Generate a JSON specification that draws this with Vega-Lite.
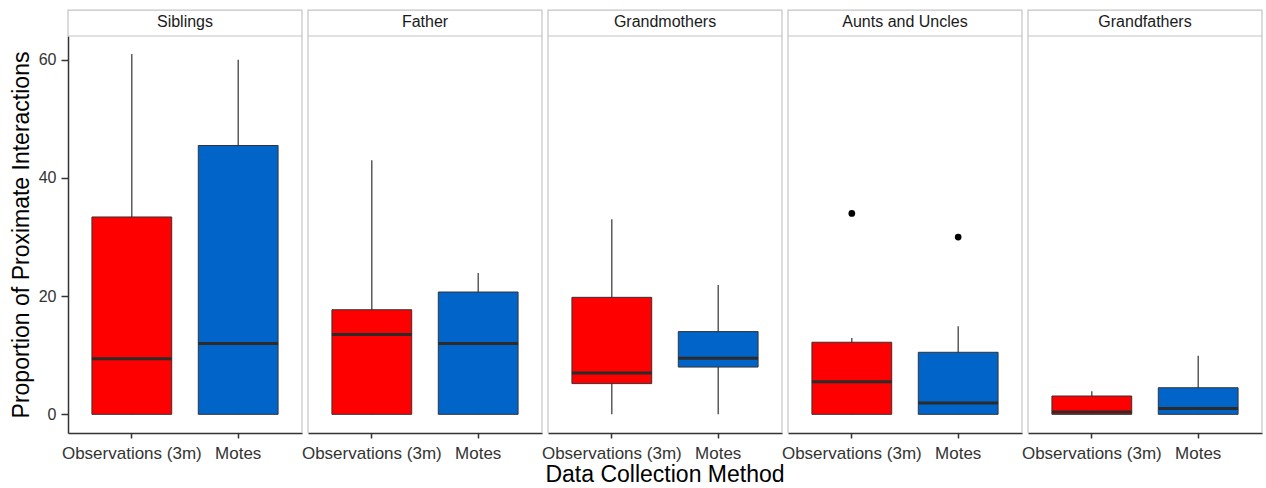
{
  "$schema": "https://vega.github.io/schema/vega-lite/v6.json",
  "padding": {"left": 10, "top": 9, "right": 3, "bottom": 1},
  "background": "white",
  "config": {
    "font": "Liberation Sans",
    "view": {"stroke": null}
  },
  "data": {
    "values": [
      {"relation": "Siblings", "method": "Observations (3m)", "lower": 0, "q1": 0, "median": 9.4, "q3": 33.4, "upper": 61.0, "outlier": null},
      {"relation": "Siblings", "method": "Motes", "lower": 0, "q1": 0, "median": 12.0, "q3": 45.5, "upper": 60.0, "outlier": null},
      {"relation": "Father", "method": "Observations (3m)", "lower": 0, "q1": 0, "median": 13.5, "q3": 17.7, "upper": 43.0, "outlier": null},
      {"relation": "Father", "method": "Motes", "lower": 0, "q1": 0, "median": 12.0, "q3": 20.7, "upper": 23.9, "outlier": null},
      {"relation": "Grandmothers", "method": "Observations (3m)", "lower": 0, "q1": 5.2, "median": 7.0, "q3": 19.8, "upper": 33.0, "outlier": null},
      {"relation": "Grandmothers", "method": "Motes", "lower": 0, "q1": 8.0, "median": 9.5, "q3": 14.0, "upper": 21.9, "outlier": null},
      {"relation": "Aunts and Uncles", "method": "Observations (3m)", "lower": 0, "q1": 0, "median": 5.5, "q3": 12.2, "upper": 12.9, "outlier": 34.0},
      {"relation": "Aunts and Uncles", "method": "Motes", "lower": 0, "q1": 0, "median": 1.9, "q3": 10.5, "upper": 14.9, "outlier": 30.0},
      {"relation": "Grandfathers", "method": "Observations (3m)", "lower": 0, "q1": 0, "median": 0.4, "q3": 3.1, "upper": 3.9, "outlier": null},
      {"relation": "Grandfathers", "method": "Motes", "lower": 0, "q1": 0, "median": 1.0, "q3": 4.5, "upper": 9.9, "outlier": null}
    ]
  },
  "facet": {
    "column": {
      "field": "relation",
      "type": "nominal",
      "sort": ["Siblings", "Father", "Grandmothers", "Aunts and Uncles", "Grandfathers"],
      "title": "Data Collection Method",
      "header": {
        "labelOrient": "top",
        "titleOrient": "bottom",
        "labelFontSize": 16,
        "labelColor": "#1a1a1a",
        "labelPadding": 6,
        "titleFontSize": 23,
        "titleFontWeight": "normal",
        "titleColor": "#000000",
        "titlePadding": -7
      }
    }
  },
  "spacing": 6,
  "bounds": "flush",
  "spec": {
    "width": 234,
    "height": 397,
    "encoding": {
      "x": {
        "field": "method",
        "type": "nominal",
        "sort": ["Observations (3m)", "Motes"],
        "scale": {"type": "band", "paddingInner": 0.25, "paddingOuter": 0.225},
        "axis": {
          "title": null,
          "labelAngle": 0,
          "labelFontSize": 17,
          "labelColor": "#333333",
          "labelPadding": 7,
          "tickSize": 5,
          "tickColor": "#333333",
          "tickWidth": 1.5,
          "domainColor": "#333333",
          "domainWidth": 1.5
        }
      },
      "y": {
        "type": "quantitative",
        "scale": {"domain": [-3.16, 64.03], "nice": false, "zero": false},
        "axis": {
          "title": "Proportion of Proximate Interactions",
          "values": [0, 20, 40, 60],
          "grid": false,
          "titleFontSize": 23,
          "titleFontWeight": "normal",
          "titleColor": "#000000",
          "titlePadding": 5,
          "labelFontSize": 16,
          "labelColor": "#333333",
          "labelPadding": 5,
          "tickSize": 7,
          "tickColor": "#333333",
          "tickWidth": 1.5,
          "domainColor": "#333333",
          "domainWidth": 1.5
        }
      }
    },
    "layer": [
      {
        "transform": [{"filter": "datum.method === 'Motes'"}],
        "mark": {"type": "rect", "fill": "white", "fillOpacity": 0, "stroke": "#c4c4c4", "strokeWidth": 1.2},
        "encoding": {
          "x": {"datum": "Observations (3m)", "bandPosition": -0.3},
          "x2": {"datum": "Motes", "bandPosition": 1.3},
          "y": {"datum": 64.03},
          "y2": {"datum": 68.42}
        }
      },
      {
        "transform": [{"filter": "datum.method === 'Motes'"}],
        "mark": {"type": "rule", "color": "#c4c4c4", "strokeWidth": 1.2},
        "encoding": {
          "x": {"datum": "Motes", "bandPosition": 1.3},
          "y": {"datum": -3.16},
          "y2": {"datum": 64.03}
        }
      },
      {
        "transform": [{"filter": "datum.method === 'Motes' && datum.relation !== 'Siblings'"}],
        "mark": {"type": "rule", "color": "#c4c4c4", "strokeWidth": 1.2},
        "encoding": {
          "x": {"datum": "Observations (3m)", "bandPosition": -0.3},
          "y": {"datum": -3.16},
          "y2": {"datum": 64.03}
        }
      },
      {
        "mark": {"type": "rule", "color": "#333333", "strokeWidth": 1.2},
        "encoding": {
          "y": {"field": "lower"},
          "y2": {"field": "upper"}
        }
      },
      {
        "mark": {"type": "bar", "stroke": "#333333", "strokeWidth": 1},
        "encoding": {
          "y": {"field": "q1"},
          "y2": {"field": "q3"},
          "color": {
            "field": "method",
            "type": "nominal",
            "scale": {"domain": ["Observations (3m)", "Motes"], "range": ["#ff0000", "#0064c8"]},
            "legend": null
          }
        }
      },
      {
        "mark": {"type": "tick", "thickness": 3, "color": "#2b2b2b", "opacity": 1},
        "encoding": {
          "y": {"field": "median"}
        }
      },
      {
        "mark": {"type": "point", "filled": true, "color": "#000000", "size": 45, "opacity": 1},
        "encoding": {
          "y": {"field": "outlier"}
        }
      }
    ]
  }
}
